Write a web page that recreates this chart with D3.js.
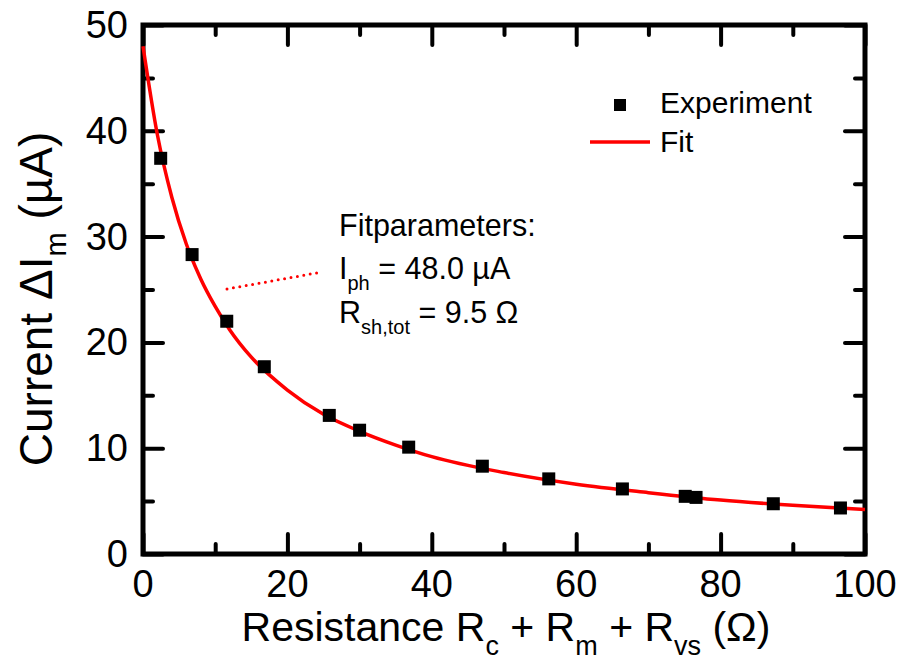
<!DOCTYPE html>
<html>
<head>
<meta charset="utf-8">
<script src="https://cdn.jsdelivr.net/npm/d3@7"></script>
<style>
  body { margin: 0; background: #fff; }
  svg { display: block; font-family: "Liberation Sans", Arial, sans-serif; }
</style>
</head>
<body>
<div id="canvas"></div>
<script>
// measured points
const resistance = [2.45, 6.8, 11.6, 16.8, 25.8, 30.0, 36.8, 47.0, 56.2, 66.4, 75.1, 76.6, 87.3, 96.6];
const current = [37.4, 28.3, 22.0, 17.7, 13.1, 11.7, 10.1, 8.3, 7.1, 6.15, 5.45, 5.35, 4.75, 4.35];

// fit curve
const fitR = [0, 2, 4, 6, 8, 10, 12, 15, 20, 25, 30, 35, 40, 50, 60, 70, 80, 90, 100];
const fitI = [48.0, 39.6, 33.7, 29.3, 26.0, 23.4, 21.2, 18.6, 15.5, 13.2, 11.6, 10.3, 9.2, 7.7, 6.6, 5.8, 5.1, 4.6, 4.2];

const xTicks = [0, 20, 40, 60, 80, 100];
const yTicks = [0, 10, 20, 30, 40, 50];
const xMinor = [10, 30, 50, 70, 90];
const yMinor = [5, 15, 25, 35, 45];

const width = 902;
const height = 662;
const margin = { top: 25, left: 143, bottom: 108, right: 37 };
const iwidth = width - margin.left - margin.right;
const iheight = height - margin.top - margin.bottom;

const svg = d3.select("#canvas").append("svg")
  .attr("width", width)
  .attr("height", height);

svg.append("rect").attr("width", width).attr("height", height).attr("fill", "#fff");

const g = svg.append("g")
  .attr("transform", `translate(${margin.left},${margin.top})`);

const x = d3.scaleLinear().domain([0, 100]).range([0, iwidth]);
const y = d3.scaleLinear().domain([0, 50]).range([iheight, 0]);

function styleTicks(sel, w) {
  sel.select(".domain").remove();
  sel.selectAll(".tick line")
    .attr("stroke", "#000")
    .attr("stroke-width", w)
    .attr("stroke-linecap", "round");
}

// ticks (inward) on all four sides
const axes = [
  [d3.axisBottom, `translate(0,${iheight})`, x],
  [d3.axisTop, "translate(0,0)", x],
  [d3.axisLeft, "translate(0,0)", y],
  [d3.axisRight, `translate(${iwidth},0)`, y]
];
axes.forEach(([fn, tr, sc]) => {
  const isX = sc === x;
  g.append("g").attr("transform", tr)
    .call(fn(sc).tickValues(isX ? xMinor : yMinor).tickSize(-10).tickFormat(""))
    .call(styleTicks, 4);
  g.append("g").attr("transform", tr)
    .call(fn(sc).tickValues(isX ? xTicks : yTicks).tickSize(-20).tickFormat(""))
    .call(styleTicks, 4);
});

// tick labels
g.append("g").selectAll("text").data(xTicks).join("text")
  .attr("x", (d) => x(d))
  .attr("y", iheight + 43)
  .attr("text-anchor", "middle")
  .attr("font-size", 38)
  .text((d) => d);

g.append("g").selectAll("text").data(yTicks).join("text")
  .attr("x", -15)
  .attr("y", (d) => y(d) + 13)
  .attr("text-anchor", "end")
  .attr("font-size", 38)
  .text((d) => d);

// frame
g.append("rect")
  .attr("width", iwidth)
  .attr("height", iheight)
  .attr("fill", "none")
  .attr("stroke", "#000")
  .attr("stroke-width", 5);

// fit curve
const fitData = fitR.map((r, i) => [r, fitI[i]]);
g.append("path")
  .datum(fitData)
  .attr("fill", "none")
  .attr("stroke", "#ff0000")
  .attr("stroke-width", 3.5)
  .attr("d", d3.line().x((d) => x(d[0])).y((d) => y(d[1])).curve(d3.curveMonotoneX));

// experiment points
const ms = 13;
g.selectAll("rect.pt").data(resistance).join("rect")
  .attr("class", "pt")
  .attr("x", (d) => x(d) - ms / 2)
  .attr("y", (d, i) => y(current[i]) - ms / 2)
  .attr("width", ms)
  .attr("height", ms)
  .attr("fill", "#000");

// legend
svg.append("rect").attr("x", 614).attr("y", 99).attr("width", 12).attr("height", 12).attr("fill", "#000");
svg.append("text").attr("x", 660).attr("y", 113).attr("font-size", 30).text("Experiment");
svg.append("line").attr("x1", 590).attr("x2", 650).attr("y1", 142).attr("y2", 142)
  .attr("stroke", "#ff0000").attr("stroke-width", 3.5);
svg.append("text").attr("x", 660).attr("y", 152).attr("font-size", 30).text("Fit");

// annotation
svg.append("line").attr("x1", 227).attr("y1", 289).attr("x2", 322).attr("y2", 272)
  .attr("stroke", "#ff0000").attr("stroke-width", 3)
  .attr("stroke-linecap", "round").attr("stroke-dasharray", "0 6.5");

const ann = svg.append("g").attr("font-size", 30.5);
ann.append("text").attr("x", 339).attr("y", 236).text("Fitparameters:");
const t2 = ann.append("text").attr("x", 339).attr("y", 279);
t2.append("tspan").text("I");
t2.append("tspan").attr("font-size", 20).attr("dy", 11).text("ph");
t2.append("tspan").attr("dy", -11).text(" = 48.0 µA");
const t3 = ann.append("text").attr("x", 339).attr("y", 323);
t3.append("tspan").text("R");
t3.append("tspan").attr("font-size", 20).attr("dy", 11).text("sh,tot");
t3.append("tspan").attr("dy", -11).text(" = 9.5 Ω");

// axis titles
const xt = svg.append("text")
  .attr("x", 506).attr("y", 641)
  .attr("text-anchor", "middle")
  .attr("font-size", 41);
xt.append("tspan").text("Resistance R");
xt.append("tspan").attr("font-size", 27).attr("dy", 14).text("c");
xt.append("tspan").attr("dy", -14).text(" + R");
xt.append("tspan").attr("font-size", 27).attr("dy", 14).text("m");
xt.append("tspan").attr("dy", -14).text(" + R");
xt.append("tspan").attr("font-size", 27).attr("dy", 14).text("vs");
xt.append("tspan").attr("dy", -14).text(" (Ω)");

const yt = svg.append("text")
  .attr("transform", "translate(52,299) rotate(-90)")
  .attr("text-anchor", "middle")
  .attr("font-size", 46);
yt.append("tspan").text("Current ΔI");
yt.append("tspan").attr("font-size", 29).attr("dy", 14).text("m");
yt.append("tspan").attr("dy", -14).text(" (µA)");
</script>
</body>
</html>
